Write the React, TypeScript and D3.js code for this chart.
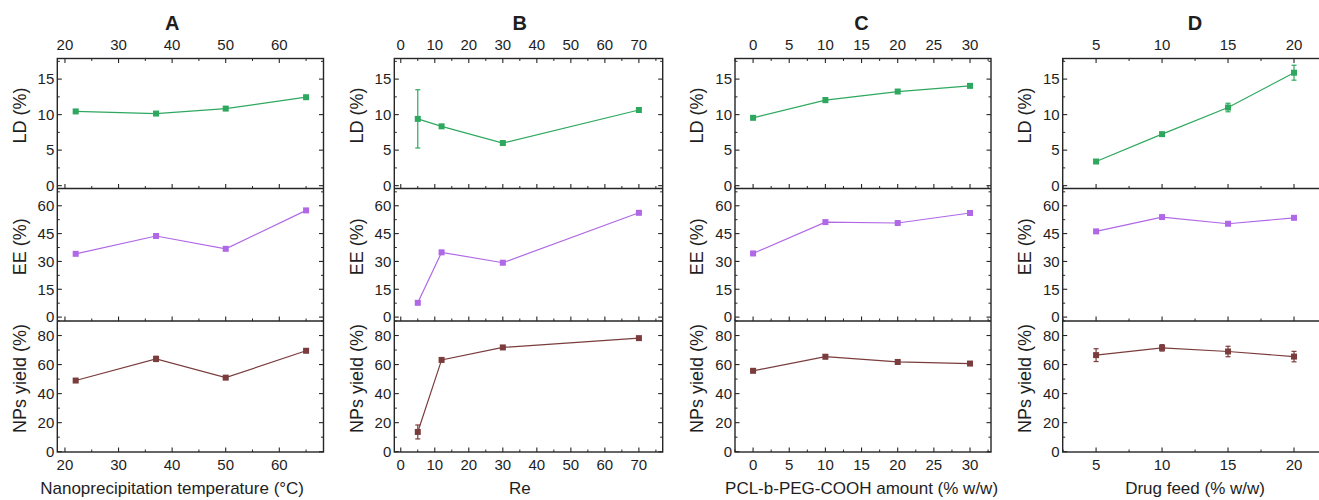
import React from "react";
import * as d3 from "d3";

// ---------- data ----------
const panelLetters = ["A", "B", "C", "D"];
const xTitles = [
  "Nanoprecipitation temperature (°C)",
  "Re",
  "PCL-b-PEG-COOH amount (% w/w)",
  "Drug feed (% w/w)",
];

// Panel A: temperature
const tempX = [22, 37, 50, 65];
const tempLD = [10.45, 10.15, 10.85, 12.45];
const tempLDErr = [0.2, 0.2, 0.2, 0.2];
const tempEE = [34.1, 43.7, 36.8, 57.5];
const tempEEErr = [0.5, 0.8, 0.6, 0.6];
const tempYield = [49.0, 63.9, 51.0, 69.5];
const tempYieldErr = [0.6, 1.8, 0.8, 0.8];

// Panel B: Re
const reX = [5, 12, 30, 70];
const reLD = [9.4, 8.35, 6.0, 10.65];
const reLDErr = [4.1, 0.2, 0.2, 0.2];
const reEE = [7.7, 34.9, 29.3, 56.2];
const reEEErr = [0.5, 0.5, 0.5, 0.5];
const reYield = [13.6, 63.2, 71.8, 78.2];
const reYieldErr = [4.8, 0.6, 0.8, 0.5];

// Panel C: PCL-b-PEG-COOH amount
const pegX = [0, 10, 20, 30];
const pegLD = [9.55, 12.05, 13.25, 14.05];
const pegLDErr = [0.2, 0.35, 0.25, 0.25];
const pegEE = [34.3, 51.2, 50.7, 56.1];
const pegEEErr = [0.5, 0.8, 0.5, 0.5];
const pegYield = [55.7, 65.4, 61.8, 60.7];
const pegYieldErr = [0.8, 1.3, 1.0, 0.8];

// Panel D: drug feed
const feedX = [5, 10, 15, 20];
const feedLD = [3.4, 7.25, 11.0, 15.9];
const feedLDErr = [0.2, 0.2, 0.6, 1.05];
const feedEE = [46.2, 53.9, 50.3, 53.5];
const feedEEErr = [0.6, 0.6, 0.6, 0.6];
const feedYield = [66.5, 71.5, 69.0, 65.5];
const feedYieldErr = [4.4, 2.2, 3.6, 3.6];

// tick values
const tempTicks = [20, 30, 40, 50, 60];
const reTicks = [0, 10, 20, 30, 40, 50, 60, 70];
const pegTicks = [0, 5, 10, 15, 20, 25, 30];
const feedTicks = [5, 10, 15, 20];
const ldTicks = [0, 5, 10, 15];
const eeTicks = [0, 15, 30, 45, 60];
const yieldTicks = [0, 20, 40, 60, 80];

const rowLabels = ["LD (%)", "EE (%)", "NPs yield (%)"];
const rowColors = ["#2ea85e", "#b068e6", "#7a3c3c"];

// ---------- layout ----------
const W = 1319;
const H = 500;
const TOP = 58.5;
const B1 = 188.5;
const B2 = 321;
const BOTTOM = 452;
const rowRanges: [number, number][] = [
  [B1, TOP],
  [B2, B1],
  [BOTTOM, B2],
];
const rowDomains: [number, number][] = [
  [-0.4, 17.9],
  [-2.1, 69.3],
  [-0.2, 90],
];
const rowTicks = [ldTicks, eeTicks, yieldTicks];
const rowMinorStep = [2.5, 7.5, 10];

const panelX: [number, number][] = [
  [57.3, 323.5],
  [394.3, 662.7],
  [735, 991],
  [1062.7, 1327],
];
const panelDomains: [number, number][] = [
  [18.57, 68.25],
  [-1.9, 77],
  [-2.5, 32.9],
  [2.47, 22.5],
];
const panelTicks = [tempTicks, reTicks, pegTicks, feedTicks];
const panelMinorStep = [5, 5, 2.5, 2.5];

const panelData = [
  { x: tempX, rows: [[tempLD, tempLDErr], [tempEE, tempEEErr], [tempYield, tempYieldErr]] },
  { x: reX, rows: [[reLD, reLDErr], [reEE, reEEErr], [reYield, reYieldErr]] },
  { x: pegX, rows: [[pegLD, pegLDErr], [pegEE, pegEEErr], [pegYield, pegYieldErr]] },
  { x: feedX, rows: [[feedLD, feedLDErr], [feedEE, feedEEErr], [feedYield, feedYieldErr]] },
];

const FONT = "'Liberation Sans', Arial, sans-serif";
const AXIS = "#262626";
const TXT = "#1e1e1e";
const MAJ = 4.5;
const MIN = 2.5;
const MS = 6;

function minorVals(domain: [number, number], step: number, majors: number[]) {
  const out: number[] = [];
  const start = Math.ceil(domain[0] / step) * step;
  for (let v = start; v <= domain[1] + 1e-9; v += step) {
    if (!majors.some((m) => Math.abs(m - v) < 1e-6)) out.push(v);
  }
  return out;
}

function Panel({ pi }: { pi: number }) {
  const [x0, x1] = panelX[pi];
  const xs = d3.scaleLinear().domain(panelDomains[pi]).range([x0, x1]);
  const xMaj = panelTicks[pi].filter((t) => xs(t) >= x0 && xs(t) <= x1);
  const xMin = minorVals(panelDomains[pi], panelMinorStep[pi], panelTicks[pi]);
  const d = panelData[pi];
  const line = d3.line<[number, number]>().x((p) => p[0]).y((p) => p[1]);
  const midX = (xs(d3.min(panelTicks[pi])!) + xs(d3.max(panelTicks[pi])!)) / 2;

  return (
    <g>
      {rowRanges.map((range, ri) => {
        const ys = d3.scaleLinear().domain(rowDomains[ri]).range(range);
        const [yb, yt] = range;
        const yMaj = rowTicks[ri];
        const yMin = minorVals(rowDomains[ri], rowMinorStep[ri], yMaj);
        const [vals, errs] = d.rows[ri];
        const pts: [number, number][] = d.x.map((xv, i) => [xs(xv), ys(vals[i])]);
        const color = rowColors[ri];
        const cy = (yb + yt) / 2 - 8;
        return (
          <g key={ri}>
            {yMaj.map((t) => (
              <g key={"ym" + t}>
                <line x1={x0} x2={x0 + MAJ} y1={ys(t)} y2={ys(t)} stroke={AXIS} strokeWidth={1.1} />
                <line x1={x1} x2={x1 - MAJ} y1={ys(t)} y2={ys(t)} stroke={AXIS} strokeWidth={1.1} />
                <text x={x0 - 3} y={ys(t)} dy="0.35em" textAnchor="end" fontSize={15} fill={TXT} fontFamily={FONT}>
                  {t}
                </text>
              </g>
            ))}
            {yMin.map((t) => (
              <g key={"yn" + t}>
                <line x1={x0} x2={x0 + MIN} y1={ys(t)} y2={ys(t)} stroke={AXIS} strokeWidth={1} />
                <line x1={x1} x2={x1 - MIN} y1={ys(t)} y2={ys(t)} stroke={AXIS} strokeWidth={1} />
              </g>
            ))}
            {xMaj.map((t) => (
              <line key={"xb" + t} x1={xs(t)} x2={xs(t)} y1={yb} y2={yb - MAJ} stroke={AXIS} strokeWidth={1.1} />
            ))}
            {xMin.map((t) => (
              <line key={"xbn" + t} x1={xs(t)} x2={xs(t)} y1={yb} y2={yb - MIN} stroke={AXIS} strokeWidth={1} />
            ))}
            <text
              transform={`translate(${x0 - 38},${cy}) rotate(-90)`}
              textAnchor="middle"
              dy="0.35em"
              fontSize={18}
              fill={TXT}
              fontFamily={FONT}
            >
              {rowLabels[ri]}
            </text>
            <path d={line(pts) || ""} fill="none" stroke={color} strokeWidth={1.2} />
            {pts.map((p, i) => {
              const e = errs[i];
              const ya = ys(vals[i] + e);
              const yc = ys(vals[i] - e);
              return (
                <g key={"pt" + i}>
                  <line x1={p[0]} x2={p[0]} y1={ya} y2={yc} stroke={color} strokeWidth={1.2} />
                  <line x1={p[0] - 2.5} x2={p[0] + 2.5} y1={ya} y2={ya} stroke={color} strokeWidth={1.2} />
                  <line x1={p[0] - 2.5} x2={p[0] + 2.5} y1={yc} y2={yc} stroke={color} strokeWidth={1.2} />
                  <rect x={p[0] - MS / 2} y={p[1] - MS / 2} width={MS} height={MS} fill={color} />
                </g>
              );
            })}
          </g>
        );
      })}
      {xMaj.map((t) => (
        <g key={"xt" + t}>
          <line x1={xs(t)} x2={xs(t)} y1={TOP} y2={TOP + MAJ} stroke={AXIS} strokeWidth={1.1} />
          <text x={xs(t)} y={49.5} textAnchor="middle" fontSize={15} fill={TXT} fontFamily={FONT}>
            {t}
          </text>
          <text x={xs(t)} y={469.5} textAnchor="middle" fontSize={15} fill={TXT} fontFamily={FONT}>
            {t}
          </text>
        </g>
      ))}
      {xMin.map((t) => (
        <line key={"xtn" + t} x1={xs(t)} x2={xs(t)} y1={TOP} y2={TOP + MIN} stroke={AXIS} strokeWidth={1} />
      ))}
      <rect x={x0} y={TOP} width={x1 - x0} height={BOTTOM - TOP} fill="none" stroke={AXIS} strokeWidth={1.4} />
      <line x1={x0} x2={x1} y1={B1} y2={B1} stroke={AXIS} strokeWidth={1.4} />
      <line x1={x0} x2={x1} y1={B2} y2={B2} stroke={AXIS} strokeWidth={1.4} />
      <text x={midX} y={30} textAnchor="middle" fontSize={20} fontWeight="bold" fill={TXT} fontFamily={FONT}>
        {panelLetters[pi]}
      </text>
      <text x={midX} y={494} textAnchor="middle" fontSize={17} fill={TXT} fontFamily={FONT}>
        {xTitles[pi]}
      </text>
    </g>
  );
}

export default function App() {
  return (
    <svg
      width={W}
      height={H}
      viewBox={`0 0 ${W} ${H}`}
      style={{ position: "absolute", left: 0, top: 0, background: "#fff" }}
    >
      <rect width={W} height={H} fill="#fff" />
      {panelLetters.map((_, i) => (
        <Panel key={i} pi={i} />
      ))}
    </svg>
  );
}
